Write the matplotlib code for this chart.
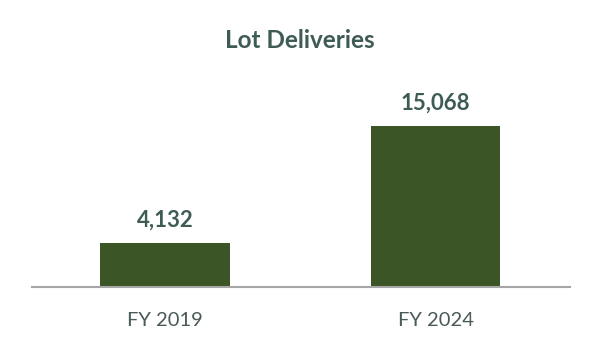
import matplotlib
matplotlib.use("Agg")
import matplotlib.pyplot as plt

categories = ["FY 2019", "FY 2024"]
values = [4132, 15068]
title = "Lot Deliveries"

bar_color = "#3b5526"
text_color = "#3e5c55"
tick_color = "#4a5a58"

plt.rcParams['font.family'] = ['Lato', 'DejaVu Sans']

fig = plt.figure(figsize=(6, 3.6), dpi=100)
ax = fig.add_axes([32/600, 1-287/360, 538/600, 237/360])
x = list(range(len(categories)))
bars = ax.bar(x, values, width=0.48, color=bar_color, zorder=2)
for xi, v in zip(x, values):
    ax.annotate(f"{v:,}", (xi, v), xytext=(0, 9), textcoords="offset points",
                ha="center", va="bottom", fontsize=16, fontweight="bold", color=text_color)
ax.set_xlim(-0.4917, 1.497)
ax.set_ylim(0, 15068*237/161)
ax.set_xticks(x)
ax.set_xticklabels(categories, fontsize=14.5, color=tick_color)
ax.tick_params(axis='x', length=0, pad=18)
ax.set_yticks([])
for s in ['top', 'right', 'left']:
    ax.spines[s].set_visible(False)
ax.spines['bottom'].set_color('#a6a6a6')
ax.spines['bottom'].set_linewidth(1.5)
fig.text(0.5, 1-40/360, title, ha='center', va='center', fontsize=17.5, fontweight='bold', color=text_color)
fig.savefig("out.png", dpi=100)
